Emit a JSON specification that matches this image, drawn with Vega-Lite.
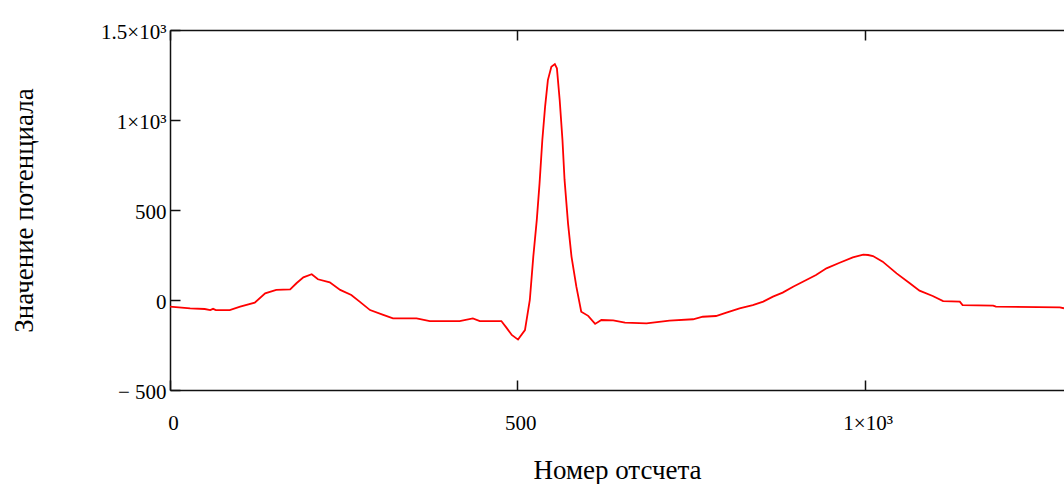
{
  "$schema": "https://vega.github.io/schema/vega-lite/v6.json",
  "autosize": {"type": "none"},
  "padding": {"left": 170, "top": 30, "right": 0, "bottom": 94},
  "width": 894,
  "height": 360,
  "background": "white",
  "config": {
    "view": {"stroke": null},
    "font": "Liberation Serif",
    "axis": {
      "domainColor": "#111",
      "domainWidth": 1.5,
      "tickColor": "#111",
      "tickWidth": 1.5,
      "grid": false,
      "labelFont": "Liberation Serif",
      "labelFontSize": 21,
      "labelColor": "#000",
      "titleFont": "Liberation Serif",
      "titleFontSize": 27,
      "titleFontWeight": "normal",
      "titleColor": "#000"
    }
  },
  "data": {
    "values": [
      {"n": 0, "v": -37}, {"n": 29, "v": -46}, {"n": 50, "v": -50}, {"n": 58, "v": -56}, {"n": 62, "v": -49},
      {"n": 66, "v": -56}, {"n": 86, "v": -56}, {"n": 101, "v": -37}, {"n": 122, "v": -15}, {"n": 137, "v": 37},
      {"n": 153, "v": 56}, {"n": 173, "v": 59}, {"n": 182, "v": 93}, {"n": 192, "v": 126}, {"n": 204, "v": 143},
      {"n": 213, "v": 115}, {"n": 230, "v": 98}, {"n": 245, "v": 56}, {"n": 261, "v": 28}, {"n": 273, "v": -9},
      {"n": 288, "v": -56}, {"n": 307, "v": -83}, {"n": 321, "v": -102}, {"n": 355, "v": -102}, {"n": 374, "v": -117},
      {"n": 417, "v": -117}, {"n": 436, "v": -102}, {"n": 446, "v": -117}, {"n": 477, "v": -117}, {"n": 484, "v": -152},
      {"n": 492, "v": -194}, {"n": 501, "v": -220}, {"n": 511, "v": -167}, {"n": 518, "v": 0}, {"n": 523, "v": 241},
      {"n": 528, "v": 444}, {"n": 532, "v": 648}, {"n": 536, "v": 889}, {"n": 540, "v": 1074}, {"n": 544, "v": 1222},
      {"n": 549, "v": 1296}, {"n": 554, "v": 1311}, {"n": 557, "v": 1287}, {"n": 561, "v": 1111}, {"n": 565, "v": 889},
      {"n": 568, "v": 667}, {"n": 573, "v": 426}, {"n": 578, "v": 241}, {"n": 585, "v": 74}, {"n": 592, "v": -65},
      {"n": 602, "v": -88}, {"n": 612, "v": -133}, {"n": 621, "v": -111}, {"n": 638, "v": -113}, {"n": 655, "v": -126},
      {"n": 686, "v": -130}, {"n": 719, "v": -115}, {"n": 753, "v": -107}, {"n": 767, "v": -93}, {"n": 786, "v": -89},
      {"n": 801, "v": -70}, {"n": 820, "v": -46}, {"n": 839, "v": -28}, {"n": 854, "v": -9}, {"n": 868, "v": 19},
      {"n": 882, "v": 41}, {"n": 897, "v": 74}, {"n": 916, "v": 111}, {"n": 930, "v": 139}, {"n": 945, "v": 176},
      {"n": 964, "v": 207}, {"n": 983, "v": 237}, {"n": 998, "v": 252}, {"n": 1005, "v": 250}, {"n": 1012, "v": 244},
      {"n": 1026, "v": 213}, {"n": 1046, "v": 148}, {"n": 1065, "v": 93}, {"n": 1079, "v": 52}, {"n": 1098, "v": 22},
      {"n": 1113, "v": -6}, {"n": 1137, "v": -9}, {"n": 1141, "v": -28}, {"n": 1185, "v": -31}, {"n": 1189, "v": -37},
      {"n": 1281, "v": -41}, {"n": 1287, "v": -46}
    ]
  },
  "layer": [
    {
      "mark": {"type": "line", "color": "#ff0000", "strokeWidth": 1.8, "clip": true},
      "encoding": {
        "x": {
          "field": "n", "type": "quantitative",
          "scale": {"domain": [0, 1287], "nice": false, "zero": false},
          "axis": {
            "orient": "bottom",
            "title": "Номер отсчета",
            "values": [0, 500, 1000],
            "labelExpr": "datum.value == 1000 ? '1×10³' : datum.label",
            "tickSize": -10,
            "labelPadding": 32,
            "labelOffset": 3,
            "labelFlush": false,
            "labelOverlap": false,
            "titleBaseline": "alphabetic",
            "titleY": 88
          }
        },
        "y": {
          "field": "v", "type": "quantitative",
          "scale": {"domain": [-500, 1500], "nice": false, "zero": false},
          "axis": {
            "orient": "left",
            "title": "Значение потенциала",
            "values": [-500, 0, 500, 1000, 1500],
            "labelExpr": "datum.value == 1500 ? '1.5×10³' : datum.value == 1000 ? '1×10³' : datum.value == -500 ? '− 500' : datum.label",
            "tickSize": -10,
            "labelPadding": 14,
            "labelOffset": 2,
            "labelFlush": false,
            "labelOverlap": false,
            "titleBaseline": "alphabetic",
            "titleX": -138
          }
        }
      }
    },
    {
      "mark": {"type": "line", "strokeOpacity": 0},
      "encoding": {
        "x": {
          "field": "n", "type": "quantitative",
          "axis": {
            "orient": "top",
            "title": null,
            "labels": false,
            "values": [0, 500, 1000],
            "tickSize": -10
          }
        },
        "y": {"field": "v", "type": "quantitative"}
      }
    }
  ],
  "resolve": {"axis": {"x": "independent"}}
}
